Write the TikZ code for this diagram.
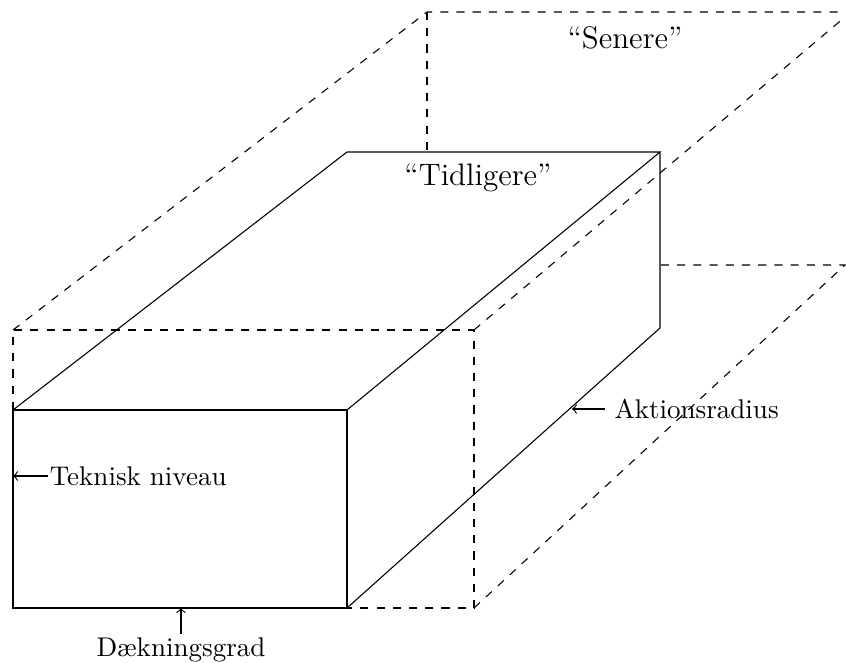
\documentclass[tikz,border=0pt]{standalone}
\usepackage{tikz}
\usetikzlibrary{positioning}

\begin{document}
\begin{tikzpicture}[x=0.013cm,y=-0.013cm]

\useasboundingbox (0,0) rectangle (846,663);

% solid box
\coordinate (A) at (13,410);
\coordinate (B) at (347,410);
\coordinate (C) at (347,608);
\coordinate (D) at (13,608);
\coordinate (E) at (347,152);
\coordinate (F) at (660,152);
\coordinate (G) at (660,328);

% dashed box
\coordinate (H) at (13,330);
\coordinate (I) at (474,330);
\coordinate (J) at (474,608);
\coordinate (K) at (427,12);
\coordinate (L) at (845,12);
\coordinate (M) at (845,17);
\coordinate (N) at (660,265);
\coordinate (O) at (845,265);
\coordinate (P) at (427,152);

\draw (A) -- (B) -- (C) -- (D) -- cycle;
\draw (A) -- (E) -- (F) -- (B);
\draw (F) -- (G) -- (C);

\draw[dashed] (A) -- (H) -- (I) -- (J) -- (C);
\draw[dashed] (H) -- (K) -- (L);
\draw[dashed] (I) -- (M);
\draw[dashed] (J) -- (O) -- (N);
\draw[dashed] (K) -- (P);

% labels
\node[font=\fontsize{11.5pt}{14pt}\selectfont] (senere) at (625,38) {``Senere''};
\node[font=\fontsize{11.5pt}{14pt}\selectfont] (tidligere) at (478,178) {``Tidligere''};

\coordinate (aktpt) at (572,409);
\node[anchor=west] (aktion) at (605,409) {Aktionsradius};
\draw[->] (aktion.west) -- (aktpt);

\coordinate (tekpt) at (13,476);
\node[anchor=west, inner xsep=0.5pt] (teknisk) at (48,476) {Teknisk niveau};
\draw[->] (teknisk.west) -- (tekpt);

\coordinate (daekpt) at (181,608);
\node[anchor=north, inner ysep=1pt] (daek) at (181,634) {D\ae kningsgrad};
\draw[->] (daek.north) -- (daekpt);

\end{tikzpicture}
\end{document}
